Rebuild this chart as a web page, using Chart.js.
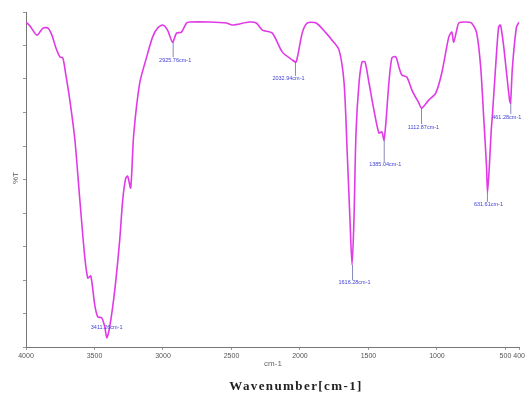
<!DOCTYPE html>
<html>
<head>
<meta charset="utf-8">
<script src="https://cdn.jsdelivr.net/npm/chart.js@4.4.1/dist/chart.umd.min.js"></script>
<style>
html,body{margin:0;padding:0;background:#fff;}
#wrap{width:527px;height:399px;position:relative;}
</style>
</head>
<body>
<div id="wrap"><canvas id="c" width="527" height="399"></canvas></div>
<script>
// Wavenumber (cm-1) and transmittance (%T, 0 = bottom of axis, 100 = top)
const wavenumbers = [4000,3971,3920,3876,3840,3811,3782,3753,3731,3709,3680,3643,3607,3571,3549,3527,3498,3476,3447,3425,3410,3389,3352,3316,3294,3272,3258,3236,3214,3170,3119,3076,3039,3003,2967,2930,2901,2865,2828,2806,2661,2537,2493,2370,2319,2275,2202,2130,2057,2028,1984,1948,1882,1809,1766,1715,1678,1656,1635,1620,1606,1591,1569,1547,1525,1496,1460,1424,1402,1387,1373,1351,1329,1300,1278,1256,1220,1183,1132,1111,1060,1009,965,914,892,878,856,841,798,747,710,681,659,638,631,618,605,594,572,550,536,514,492,470,463,449,420,400];
const transmittance = [97.0,95.8,93.1,95.2,95.2,93.1,89.3,86.6,86.3,81.2,73.7,61.8,43.9,26.9,20.6,21.2,12.5,9.0,8.7,6.0,2.7,6.0,17.0,31.9,43.9,50.4,51.0,47.5,63.3,78.8,86.6,92.5,95.2,96.1,94.6,91.0,93.7,94.0,96.7,97.0,97.0,96.7,96.1,97.0,96.7,94.6,93.7,88.1,85.7,85.1,93.7,96.7,96.7,93.7,91.6,88.7,78.8,58.8,37.9,24.5,37.9,63.9,78.8,85.1,85.1,78.8,70.7,63.9,64.2,61.8,66.9,78.8,86.3,86.6,83.6,81.2,80.6,76.7,72.8,71.3,73.7,75.8,81.8,92.5,94.0,91.0,94.6,96.7,97.0,96.7,93.7,83.6,68.7,53.7,46.0,53.7,63.9,70.0,83.6,95.5,96.1,90.1,81.8,73.7,72.8,83.6,95.5,97.0];

// Peak annotations
const peakWavenumbers = [3411.26,2925.76,2032.94,1616.28,1385.04,1112.87,631.61,461.28];
const peakTransmittance = [2.7,91.0,85.1,24.5,61.8,71.3,46.0,72.8];
const peakLabels = ["3411.26cm-1","2925.76cm-1","2032.94cm-1","1616.28cm-1","1385.04cm-1","1112.87cm-1","631.61cm-1","461.28cm-1"];

// Axis ticks
const xTickValues = [4000,3500,3000,2500,2000,1500,1000,500,400];
const yTickValues = [0,10,20,30,40,50,60,70,80,90,100];

// label placement (pixels below the dip, horizontal shift)
const peakLabelDy = [-10,18,17,18,25,19,12,14];
const peakLabelDx = [0,2,-7,2,1,2,1,-4];

const points = wavenumbers.map((w,i)=>({x:w,y:transmittance[i]}));

const annotPlugin = {
  id:'annot',
  afterDatasetsDraw(chart){
    const ctx = chart.ctx, xs = chart.scales.x, ys = chart.scales.y;
    ctx.save();
    ctx.font = '5.5px "Liberation Sans", Arial, sans-serif';
    ctx.textAlign = 'center';
    ctx.textBaseline = 'middle';
    peakWavenumbers.forEach((w,i)=>{
      const px = xs.getPixelForValue(w), py = ys.getPixelForValue(peakTransmittance[i]);
      const ly = py + peakLabelDy[i];
      if (peakLabelDy[i] > 0){
        ctx.strokeStyle = '#6a6aa8';
        ctx.lineWidth = 0.8;
        ctx.beginPath(); ctx.moveTo(px, py); ctx.lineTo(px, ly-3); ctx.stroke();
      }
      ctx.fillStyle = '#3f3fd6';
      ctx.fillText(peakLabels[i], px + peakLabelDx[i], ly);
    });
    // axis texts
    ctx.fillStyle = '#666';
    ctx.font = '8px "Liberation Sans", Arial, sans-serif';
    ctx.fillText('cm-1', 273, 364);
    ctx.fillStyle = '#222';
    ctx.font = 'bold 13px "Liberation Serif", "Times New Roman", serif';
    if ('letterSpacing' in ctx) ctx.letterSpacing = '1.4px';
    ctx.fillText('Wavenumber[cm-1]', 296, 387);
    if ('letterSpacing' in ctx) ctx.letterSpacing = '0px';
    ctx.save();
    ctx.translate(16, 178);
    ctx.rotate(-Math.PI/2);
    ctx.fillStyle = '#555';
    ctx.font = '8px "Liberation Sans", Arial, sans-serif';
    ctx.fillText('%T', 0, 0);
    ctx.restore();
    ctx.restore();
  }
};

new Chart(document.getElementById('c'), {
  type:'line',
  data:{datasets:[{
    data:points,
    borderColor:'#e03ae6',
    borderWidth:1.6,
    pointRadius:0,
    tension:0.25,
    fill:false
  }]},
  options:{
    responsive:false,
    animation:false,
    events:[],
    layout:{padding:{left:0,top:12,right:7,bottom:0}},
    plugins:{legend:{display:false},tooltip:{enabled:false}},
    scales:{
      x:{
        type:'linear', reverse:true, min:400, max:4000,
        afterBuildTicks(s){ s.ticks = xTickValues.map(v=>({value:v})); },
        afterFit(s){ s.height = 52; },
        grid:{display:true, drawOnChartArea:false, drawTicks:true, tickLength:3, color:'#999'},
        border:{display:true, color:'#777', width:1},
        ticks:{autoSkip:false, maxRotation:0, padding:2, color:'#555',
          font:{size:7, family:'"Liberation Sans", Arial, sans-serif'},
          callback:(v)=>String(v)}
      },
      y:{
        type:'linear', min:0, max:100,
        afterBuildTicks(s){ s.ticks = yTickValues.map(v=>({value:v})); },
        afterFit(s){ s.width = 26; },
        grid:{display:true, drawOnChartArea:false, drawTicks:true, tickLength:3, color:'#999'},
        border:{display:true, color:'#777', width:1},
        ticks:{display:false}
      }
    }
  },
  plugins:[annotPlugin]
});
</script>
</body>
</html>
